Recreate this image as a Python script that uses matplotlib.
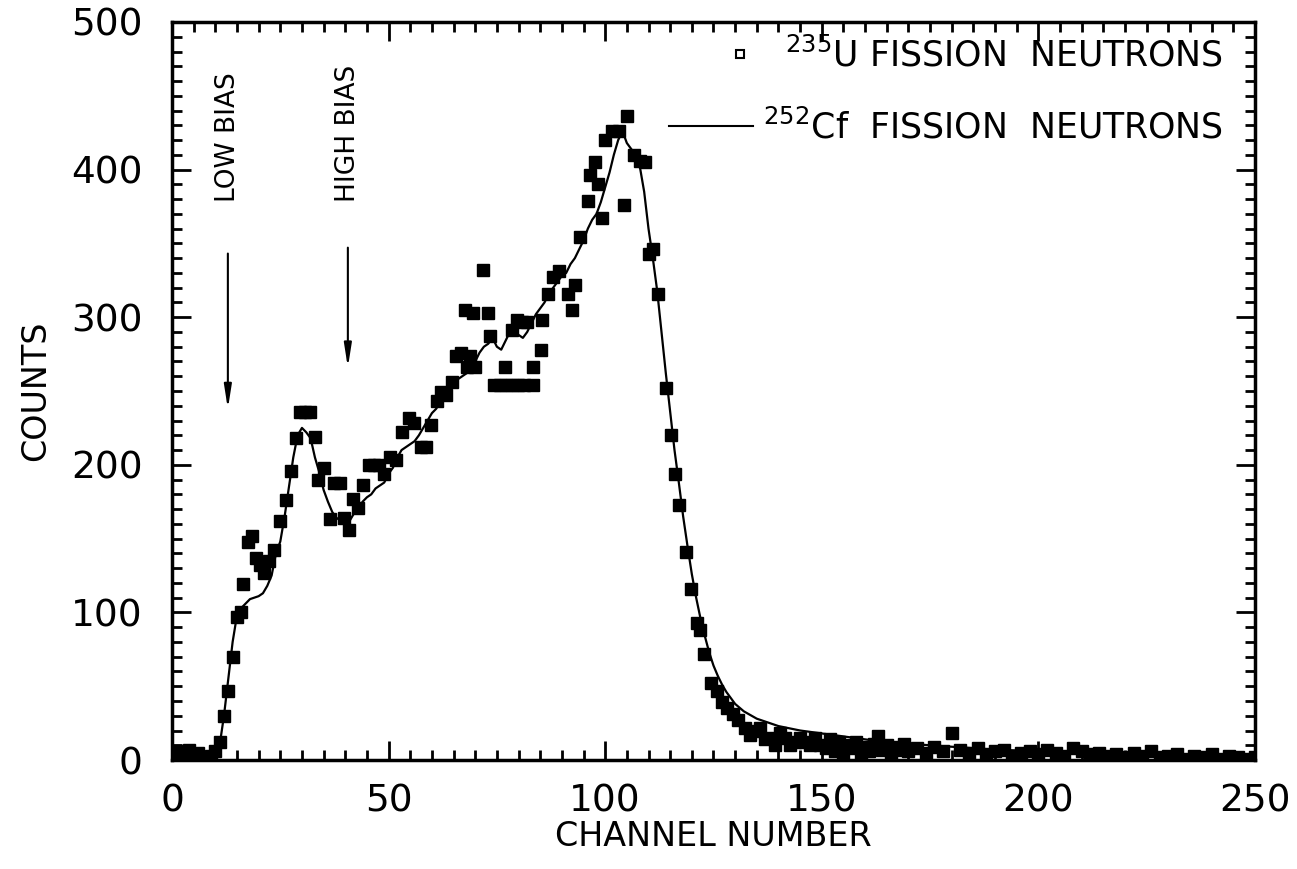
import numpy as np
import matplotlib
matplotlib.use('Agg')
from matplotlib import pyplot as plt
from matplotlib.lines import Line2D
from matplotlib.ticker import MultipleLocator

### data
u235_ch = [0, 1, 2, 3, 4, 5, 6, 7, 8, 9, 10, 11, 12, 13, 14, 15, 16, 16.5, 17.5, 18.5,
           19.5, 20.3, 21.3, 22.3, 23.5, 25, 26.3, 27.5, 28.7, 29.5, 30.7, 31.9, 33, 33.8, 35.2,
           36.4, 37.5, 38.7, 39.6, 40.8, 41.8, 42.9, 44.2, 45.4, 46.6, 47.8, 49, 50.3, 51.6,
           53.1, 54.6, 55.9, 57.4, 58.6, 59.8, 61.1, 62.1, 63.3, 64.6, 65.6, 66.7, 67.6, 68,
           68.8, 69.5, 70, 71.8, 72.9, 73.5, 74.3, 75.7, 76.9, 77.1, 78.5, 78.5, 79.6, 79.9,
           80.8, 81.3, 82, 83.3, 83.3, 85.2, 85.4, 86.8, 87.9, 89.4, 91.4, 92.3, 93, 94.2, 96,
           96.5, 97.6, 98.3, 99.2, 100, 101.6, 103.2, 104.3, 105, 106.6, 108, 109.2, 110.1, 111,
           112.2, 114, 115.2, 116.1, 117, 118.7, 119.8, 121.2, 121.9, 122.8, 124.4, 125.8, 127,
           128.1, 129.5, 130.7, 132.3, 133.4, 134.6, 135.7, 136.9, 138, 139.2, 140.4, 141.5,
           142.7, 143.8, 145, 146.1, 147.3, 148.4, 149.6, 151, 152, 153, 154, 155, 156, 157, 158,
           159, 160, 161, 162, 163, 164, 165, 166, 167, 168, 169, 170, 172, 174, 176, 178, 180,
           182, 184, 186, 188, 190, 192, 194, 196, 198, 200, 202, 204, 206, 208, 210, 212, 214,
           216, 218, 220, 222, 224, 226, 228, 230, 232, 234, 236, 238, 240, 242, 244, 246, 248, 250]
u235_counts = [4, 6, 3, 5, 7, 3, 5, 2, 1, 3, 6, 12, 30, 47, 70, 97, 100, 119, 148, 152,
               137, 132, 127, 135, 142, 162, 176, 196, 218, 236, 236, 236, 219, 190, 198,
               163, 188, 188, 164, 156, 177, 171, 186, 200, 200, 200, 194, 205, 203,
               222, 232, 228, 212, 212, 227, 243, 249, 247, 256, 274, 276, 305, 266,
               274, 303, 266, 332, 303, 287, 254, 254, 266, 254, 254, 291, 298, 254,
               297, 254, 297, 254, 266, 278, 298, 316, 327, 331, 316, 305, 322, 354, 379,
               396, 405, 390, 367, 420, 426, 426, 376, 436, 410, 406, 405, 343, 346,
               316, 252, 220, 194, 173, 141, 116, 93, 88, 72, 52, 47, 39,
               35, 31, 27, 22, 17, 20, 22, 14, 15, 10, 18, 15,
               10, 12, 15, 12, 10, 15, 10, 8, 14, 6, 12, 5, 10, 8, 12,
               4, 9, 6, 11, 16, 7, 10, 5, 9, 7, 11, 6, 8, 5, 9, 6, 18,
               7, 5, 8, 4, 6, 7, 3, 5, 6, 4, 7, 5, 3, 8, 6, 4, 5,
               3, 4, 2, 5, 3, 6, 2, 3, 4, 1, 3, 2, 4, 1, 3, 2, 1, 2]

cf_ch = [0, 2, 4, 6, 8, 10, 11, 12, 13, 14, 15, 16, 17, 18, 19, 20, 21, 22, 23, 24, 25, 26,
         27, 28, 29, 30, 31, 32, 33, 34, 35, 36, 37, 38, 39, 40, 41, 42, 43, 44, 45, 46, 47,
         48, 49, 50, 51, 52, 53, 54, 55, 56, 57, 58, 59, 60, 61, 62, 63, 64, 65, 66, 67, 68,
         69, 70, 71, 72, 73, 74, 75, 76, 77, 78, 79, 80, 81, 82, 83, 84, 85, 86, 87, 88, 89,
         90, 91, 92, 93, 94, 95, 96, 97, 98, 99, 100, 101, 102, 103, 104, 105, 106, 107, 108,
         109, 110, 111, 112, 113, 114, 115, 116, 117, 118, 119, 120, 121, 122, 123, 124, 125,
         126, 127, 128, 129, 130, 132, 135, 140, 145, 150, 155, 160, 165, 170, 180, 190, 200,
         210, 220, 230, 240, 250]
cf_counts = [2, 3, 1, 2, 1, 2, 10, 30, 55, 80, 98, 103, 106, 109, 110, 111, 113, 118, 125,
             140, 148, 165, 185, 205, 220, 225, 222, 218, 205, 195, 183, 175, 168, 164, 162,
             160, 162, 167, 170, 175, 178, 180, 184, 186, 188, 194, 198, 205, 210, 212, 214,
             216, 220, 225, 230, 235, 238, 243, 246, 250, 255, 258, 260, 262, 266, 270, 276,
             280, 282, 286, 280, 278, 284, 290, 292, 288, 286, 290, 296, 302, 306, 310, 316,
             320, 324, 328, 330, 336, 340, 346, 352, 360, 366, 370, 378, 388, 398, 410, 420,
             426, 418, 414, 410, 402, 385, 360, 340, 318, 290, 262, 236, 210, 188, 165, 145,
             126, 110, 96, 84, 73, 64, 57, 51, 46, 42, 38, 33, 28, 23, 20, 18, 16, 14, 12, 11,
             9, 7, 6, 5, 4, 3, 2, 2]

x_ticks = [0, 50, 100, 150, 200, 250]
y_ticks = [0, 100, 200, 300, 400, 500]

### style
plt.rcParams['font.family'] = ['DejaVu Sans']
plt.rcParams['mathtext.fontset'] = 'dejavusans'
plt.rcParams['mathtext.default'] = 'regular'

fig = plt.figure(figsize=(12.97, 8.69), dpi=100)
ax = fig.add_axes([0.1326, 0.1254, 0.835, 0.8493])

ax.plot(cf_ch, cf_counts, color='black', lw=1.6, zorder=2)
ax.plot(u235_ch, u235_counts, linestyle='none', marker='s', markersize=8.5,
        markerfacecolor='black', markeredgecolor='black', zorder=3)

ax.set_xlim(0, 250)
ax.set_ylim(0, 500)
ax.set_xticks(x_ticks)
ax.set_yticks(y_ticks)
ax.xaxis.set_minor_locator(MultipleLocator(5))
ax.yaxis.set_minor_locator(MultipleLocator(10))
ax.tick_params(which='both', direction='in', top=True, right=True, width=2)
ax.tick_params(which='major', length=14, labelsize=27)
ax.tick_params(which='minor', length=7)
ax.tick_params(axis='x', pad=17)
ax.tick_params(axis='y', pad=21)
for s in ax.spines.values():
    s.set_linewidth(2.5)

ax.set_xlabel('CHANNEL NUMBER', fontsize=24, labelpad=0)
ax.set_ylabel('COUNTS', fontsize=24, labelpad=14)

# bias markers
ax.text(12.9, 378, 'LOW BIAS', rotation=90, ha='center', va='bottom', fontsize=19)
ax.text(40.6, 378, 'HIGH BIAS', rotation=90, ha='center', va='bottom', fontsize=19)
arrow = dict(arrowstyle='-|>,head_length=1.4,head_width=0.22', color='black', lw=1.5)
ax.annotate('', xy=(12.9, 236), xytext=(12.9, 345), arrowprops=arrow)
ax.annotate('', xy=(40.6, 264), xytext=(40.6, 349), arrowprops=arrow)

# key, two one-entry legends so the texts line up on the right
h_u = Line2D([], [], linestyle='none', marker='s', markersize=6,
             markerfacecolor='white', markeredgecolor='black', markeredgewidth=1.5)
h_cf = Line2D([], [], color='black', lw=1.5)
leg1 = ax.legend([h_u], ['$^{235}$U FISSION  NEUTRONS'], loc='upper right',
                 bbox_to_anchor=(0.993, 1.012), frameon=False, fontsize=25,
                 handlelength=0.6, handletextpad=1.0, borderpad=0.2)
ax.add_artist(leg1)
ax.legend([h_cf], ['$^{252}$Cf  FISSION  NEUTRONS'], loc='upper right',
          bbox_to_anchor=(0.993, 0.915), frameon=False, fontsize=25,
          handlelength=2.4, handletextpad=0.3, borderpad=0.2)

plt.savefig('out.png', dpi=100)
